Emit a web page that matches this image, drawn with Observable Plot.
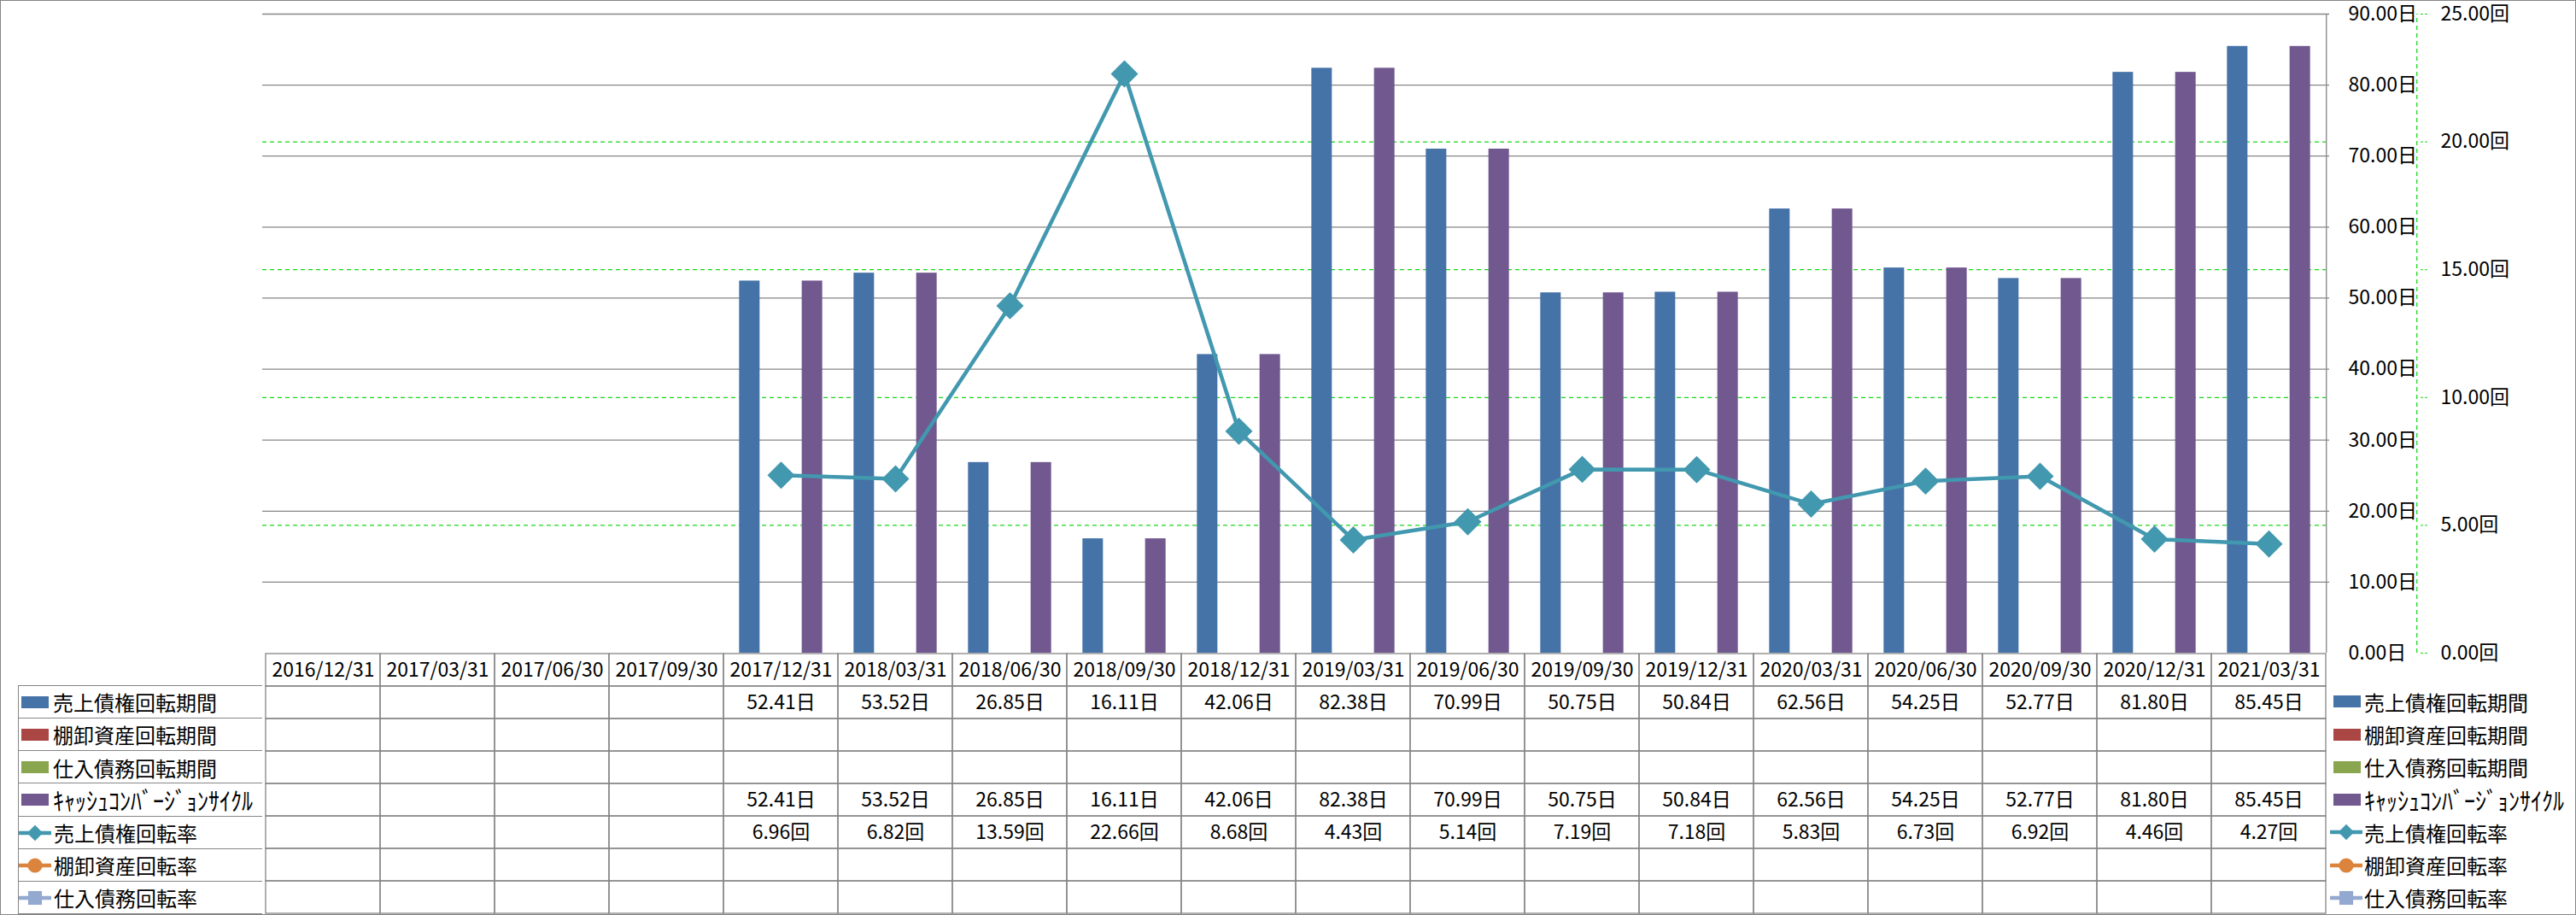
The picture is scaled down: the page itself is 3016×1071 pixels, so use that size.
<!DOCTYPE html>
<html><head><meta charset="utf-8">
<script src="https://cdn.jsdelivr.net/npm/d3@7"></script>
<script src="https://cdn.jsdelivr.net/npm/@observablehq/plot@0.6"></script>
<style>
html,body{margin:0;padding:0;background:#fff;}
#root{position:relative;width:3016px;height:1071px;overflow:hidden;font-family:"Noto Sans CJK JP","Noto Sans",sans-serif;background:#fff;}
#frame{position:absolute;left:0;top:0;width:3014px;height:1069px;border:1px solid #868686;pointer-events:none;}
#root svg.plotsvg{position:absolute;left:0;}
.leg{position:absolute;display:flex;align-items:center;font-size:24px;color:#000;white-space:nowrap;box-sizing:border-box;}
.leg svg{flex:none;}
.hw{font-size:26px;display:inline-block;transform:scaleY(1.12);}
</style></head><body><div id="root"><div id="frame"></div></div>
<script>
// ---- data ----
const categories = ["2016/12/31","2017/03/31","2017/06/30","2017/09/30","2017/12/31","2018/03/31","2018/06/30","2018/09/30","2018/12/31","2019/03/31","2019/06/30","2019/09/30","2019/12/31","2020/03/31","2020/06/30","2020/09/30","2020/12/31","2021/03/31"];
const seriesNames = ["売上債権回転期間","棚卸資産回転期間","仕入債務回転期間","ｷｬｯｼｭｺﾝﾊﾞｰｼﾞｮﾝｻｲｸﾙ","売上債権回転率","棚卸資産回転率","仕入債務回転率"];
const receivableDays = [null,null,null,null,52.41,53.52,26.85,16.11,42.06,82.38,70.99,50.75,50.84,62.56,54.25,52.77,81.80,85.45];
const inventoryDays = [null,null,null,null,null,null,null,null,null,null,null,null,null,null,null,null,null,null];
const payableDays = [null,null,null,null,null,null,null,null,null,null,null,null,null,null,null,null,null,null];
const cccDays = [null,null,null,null,52.41,53.52,26.85,16.11,42.06,82.38,70.99,50.75,50.84,62.56,54.25,52.77,81.80,85.45];
const receivableTurnover = [null,null,null,null,6.96,6.82,13.59,22.66,8.68,4.43,5.14,7.19,7.18,5.83,6.73,6.92,4.46,4.27];
const inventoryTurnover = [null,null,null,null,null,null,null,null,null,null,null,null,null,null,null,null,null,null];
const payableTurnover = [null,null,null,null,null,null,null,null,null,null,null,null,null,null,null,null,null,null];
const dayTicks = [0,10,20,30,40,50,60,70,80,90];
const rateTicks = [0,5,10,15,20,25];
const dayUnit = "日", rateUnit = "回";

// ---- layout / style ----
const W = 3016, H = 1071;
const FL = 307, FR = 2727, FT = 16, FB = 764;
const band = (FR - FL) / categories.length;
const slot = band / 5.5;
const font = '"Noto Sans CJK JP","Noto Sans",sans-serif';
const colors = ["#4572A7","#AA4643","#89A54E","#71588F","#4198AF","#DB843D","#93A9CF"];
const gridC = "#868686", green = "#17d817";
const conv = 90 / 25; // 回 -> 日 axis position

const barSeries = [receivableDays, inventoryDays, payableDays, cccDays];
const lineSeries = [receivableTurnover, inventoryTurnover, payableTurnover];
const symbols = [d3.symbolDiamond2, d3.symbolCircle, d3.symbolSquare];

const barMarks = barSeries.map((arr, s) => {
  const data = arr.map((v, i) => ({category: categories[i], value: v})).filter(d => d.value != null);
  return Plot.barY(data, {x: "category", y: "value", fill: colors[s],
    insetLeft: slot * (0.75 + s), insetRight: band - slot * (1.75 + s)});
});
const lineMarks = lineSeries.flatMap((arr, s) => {
  const data = arr.map((v, i) => ({category: categories[i], value: v})).filter(d => d.value != null);
  return [
    Plot.line(data, {x: "category", y: d => d.value * conv, stroke: colors[4 + s], strokeWidth: 4.5}),
    Plot.dot(data, {x: "category", y: d => d.value * conv, symbol: symbols[s], r: 14.4, fill: colors[4 + s], stroke: "none"})
  ];
});

const chart = Plot.plot({
  width: W, height: H,
  marginLeft: FL, marginRight: W - FR, marginTop: FT, marginBottom: H - FB,
  x: {type: "band", domain: categories, padding: 0, axis: null},
  y: {type: "linear", domain: [0, 90], axis: null, label: null},
  style: {fontFamily: font, fontSize: "23px", background: "transparent", color: "#000", overflow: "visible"},
  marks: [
    Plot.ruleY(dayTicks.filter(d => d > 0), {stroke: gridC, strokeWidth: 1.3}),
    Plot.ruleY(rateTicks.filter(d => d > 0 && d < 25), {y: d => d * conv, stroke: green, strokeWidth: 1.3, strokeDasharray: "5,4"}),
    ...barMarks,
    ...lineMarks,
    Plot.ruleX([categories[categories.length - 1]], {dx: band / 2, y1: 0, y2: 90, stroke: gridC, strokeWidth: 1.3}),
    Plot.ruleX([categories[categories.length - 1]], {dx: band / 2 + 106, y1: 0, y2: 90, stroke: green, strokeWidth: 1.3, strokeDasharray: "5,4"}),
    Plot.axisY(dayTicks, {anchor: "right", label: null, tickSize: 0, tickPadding: 22, textAnchor: "start", fill: "#000", fontSize: 23, tickFormat: d => d.toFixed(2) + dayUnit}),
    Plot.axisY(rateTicks.map(d => d * conv), {anchor: "right", label: null, tickSize: 9, dx: 106, tickPadding: 15, textAnchor: "start", stroke: green, strokeDasharray: "3,2", fill: "#000", fontSize: 23, tickFormat: d => (d / conv).toFixed(2) + rateUnit})
  ]
});
chart.classList.add("plotsvg");
chart.style.top = "0px";

// ---- data table ----
const allSeries = [receivableDays, inventoryDays, payableDays, cccDays, receivableTurnover, inventoryTurnover, payableTurnover];
const units = [dayUnit, dayUnit, dayUnit, dayUnit, rateUnit, rateUnit, rateUnit];
const rowKeys = ["header", ...seriesNames];
const cells = rowKeys.flatMap(r => categories.map(c => ({row: r, category: c})));
const texts = [
  ...categories.map(c => ({row: "header", category: c, label: c})),
  ...allSeries.flatMap((arr, s) => arr.map((v, i) => ({row: seriesNames[s], category: categories[i], label: v == null ? null : v.toFixed(2) + units[s]})).filter(d => d.label))
];
const TH = H - FB + 1;
const table = Plot.plot({
  width: W, height: TH,
  marginLeft: FL, marginRight: W - FR, marginTop: 1, marginBottom: 1,
  x: {type: "band", domain: categories, padding: 0, axis: null},
  y: {type: "band", domain: rowKeys, padding: 0, axis: null},
  style: {fontFamily: font, fontSize: "23px", background: "transparent", color: "#000"},
  marks: [
    Plot.cell(cells, {x: "category", y: "row", fill: "none", stroke: gridC, strokeWidth: 1.3, inset: 0}),
    Plot.text(texts, {x: "category", y: "row", text: "label", fontSize: 23, fill: "#000"})
  ]
});
table.classList.add("plotsvg");
table.style.top = (FB - 1) + "px";

const root = document.getElementById("root");
root.appendChild(chart);
root.appendChild(table);

// ---- legends (table row headers + right legend) ----
const rowH = (TH - 2) / rowKeys.length;
function swatch(s) {
  const ns = "http://www.w3.org/2000/svg";
  const svg = document.createElementNS(ns, "svg");
  if (s < 4) {
    svg.setAttribute("width", 32); svg.setAttribute("height", 14);
    const r = document.createElementNS(ns, "rect");
    r.setAttribute("width", 32); r.setAttribute("height", 14); r.setAttribute("fill", colors[s]);
    svg.appendChild(r);
  } else {
    svg.setAttribute("width", 38); svg.setAttribute("height", 22);
    const l = document.createElementNS(ns, "line");
    l.setAttribute("x1", 1); l.setAttribute("x2", 37); l.setAttribute("y1", 11); l.setAttribute("y2", 11);
    l.setAttribute("stroke", colors[s]); l.setAttribute("stroke-width", 4.5); l.setAttribute("stroke-linecap", "round");
    svg.appendChild(l);
    const p = document.createElementNS(ns, "path");
    p.setAttribute("d", d3.symbol(symbols[s - 4], s === 4 ? 220 : (s === 5 ? 230 : 260))());
    p.setAttribute("transform", "translate(19,11)");
    p.setAttribute("fill", colors[s]);
    svg.appendChild(p);
  }
  return svg;
}
seriesNames.forEach((name, s) => {
  const top = FB + rowH * (s + 1);
  const mk = (span) => { span.textContent = name; if (/[\uFF61-\uFF9F]/.test(name)) span.className = "hw"; return span; };
  // table row header cell
  const d = document.createElement("div");
  d.className = "leg";
  Object.assign(d.style, {left: "21px", top: (top - 0.6) + "px", width: (FL - 21) + "px", height: (rowH + 0.6) + "px",
    borderLeft: "1.3px solid " + gridC, borderTop: "1.3px solid " + gridC, paddingLeft: s < 4 ? "3px" : "0px"});
  if (s === seriesNames.length - 1) d.style.borderBottom = "1.3px solid " + gridC;
  d.appendChild(swatch(s));
  const t = mk(document.createElement("span")); t.style.marginLeft = s < 4 ? "5px" : "3px";
  d.appendChild(t);
  root.appendChild(d);
  // right legend
  const e = document.createElement("div");
  e.className = "leg";
  Object.assign(e.style, {left: (s < 4 ? 2732 : 2728) + "px", top: top + "px", height: rowH + "px"});
  e.appendChild(swatch(s));
  const u = mk(document.createElement("span")); u.style.marginLeft = s < 4 ? "4px" : "2px";
  e.appendChild(u);
  root.appendChild(e);
});
</script></body></html>
